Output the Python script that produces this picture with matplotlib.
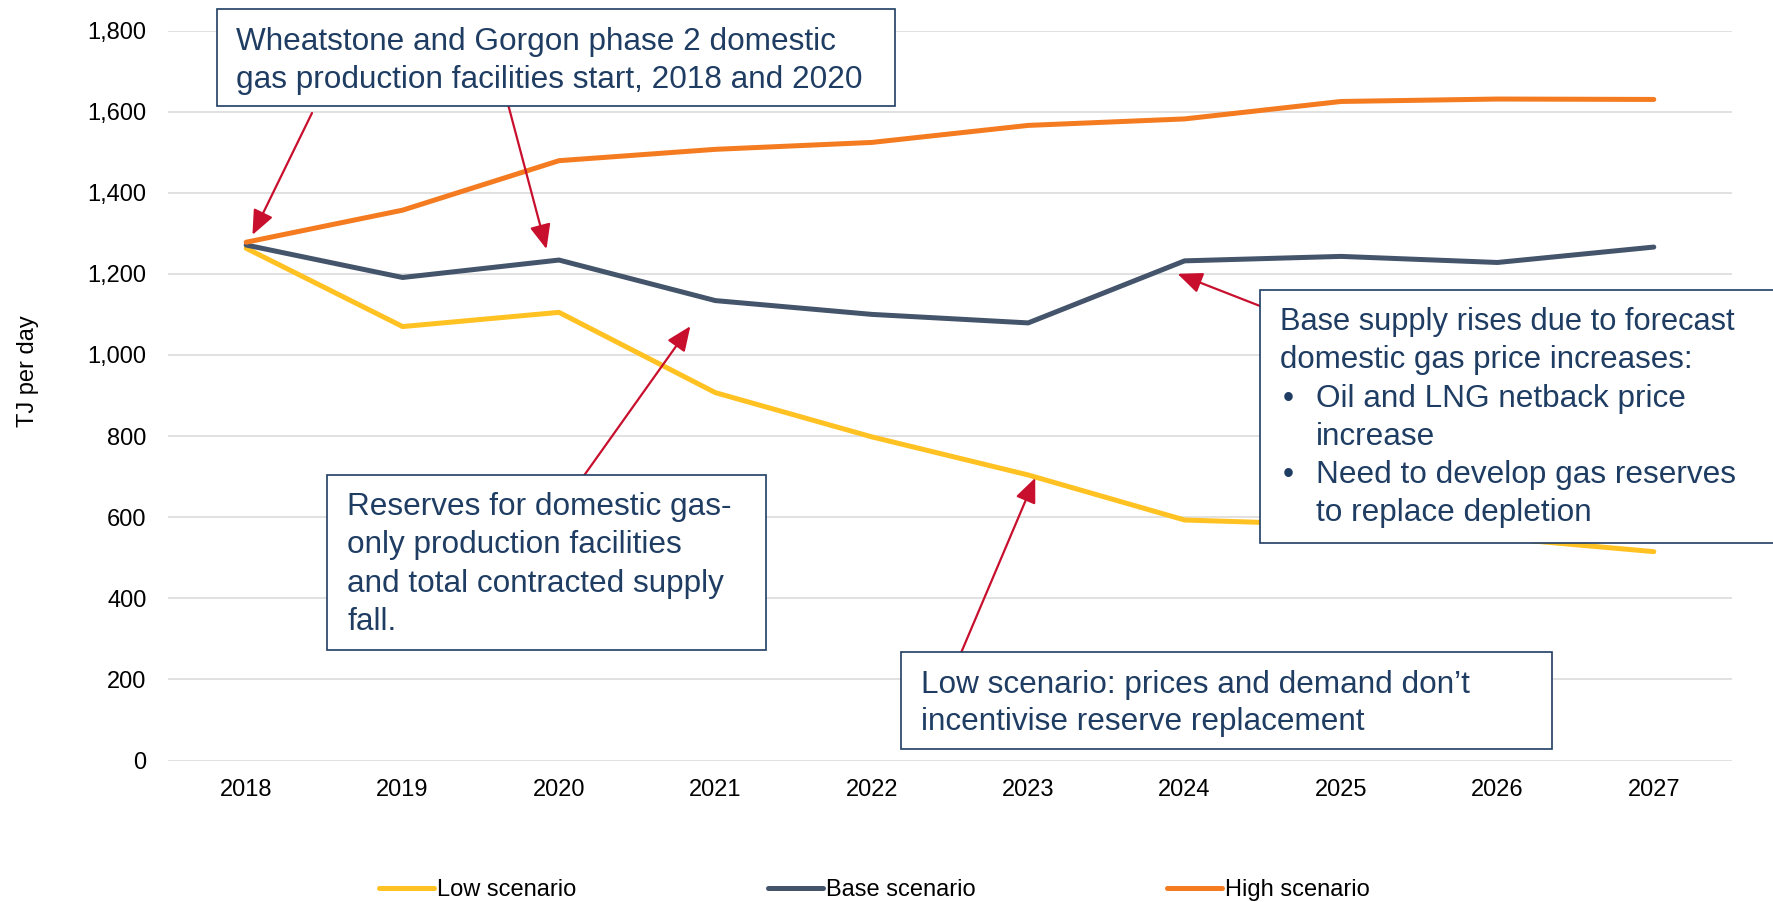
import matplotlib
matplotlib.use('Agg')
import matplotlib.pyplot as plt
from matplotlib.patches import Rectangle
from matplotlib.ticker import FuncFormatter

plt.rcParams['font.family'] = ['Liberation Sans', 'DejaVu Sans']

years = ['2018', '2019', '2020', '2021', '2022', '2023', '2024', '2025', '2026', '2027']
low = [1263, 1070, 1105, 907, 798, 704, 593, 581, 549, 515]
base = [1271, 1191, 1234, 1134, 1100, 1079, 1232, 1243, 1228, 1266]
high = [1278, 1357, 1479, 1507, 1524, 1566, 1582, 1625, 1631, 1630]

W, H = 1773, 902
fig = plt.figure(figsize=(W / 100, H / 100), dpi=100)
ax = fig.add_axes([168 / W, 1 - 760.5 / H, (1732 - 168) / W, (760.5 - 30.5) / H])

x = range(len(years))
ax.plot(x, low, color='#FFC222', lw=3.6, label='Low scenario', zorder=3, solid_capstyle='round')
ax.plot(x, base, color='#44546A', lw=3.6, label='Base scenario', zorder=3, solid_capstyle='round')
ax.plot(x, high, color='#F47B20', lw=3.6, label='High scenario', zorder=3, solid_capstyle='round')

ax.set_xlim(-0.5, len(years) - 0.5)
ax.set_ylim(0, 1800)
ax.set_yticks(range(0, 1801, 200))
ax.yaxis.set_major_formatter(FuncFormatter(lambda v, p: f'{int(v):,}'))
ax.set_xticks(list(x))
ax.set_xticklabels(years)
ax.grid(axis='y', color='#D9D9D9', lw=1.1, zorder=0)
ax.set_axisbelow(True)
for s in ax.spines.values():
    s.set_visible(False)
ax.tick_params(axis='y', length=0, pad=15.5, labelsize=17)
ax.tick_params(axis='x', length=0, pad=13.5, labelsize=17)

fig.text(28 / W, 1 - 371 / H, 'TJ per day', rotation=90, ha='center', va='center', fontsize=17)

ax.legend(loc='center', bbox_to_anchor=(874.5 / W, 12 / H), bbox_transform=fig.transFigure,
          ncol=3, frameon=False, fontsize=17, handlelength=2.33, handletextpad=0.13,
          columnspacing=8.1)

navy = '#1F3D63'
red = '#C8102E'


def box(x0, y0, x1, y1):
    r = Rectangle((x0 / W, 1 - y1 / H), (x1 - x0) / W, (y1 - y0) / H, transform=fig.transFigure,
                  facecolor='white', edgecolor=navy, lw=1.2, zorder=5, clip_on=False)
    ax.add_patch(r)


def line(xp, yb, s, size=22.7):
    ax.text(xp / W, 1 - yb / H, s, transform=fig.transFigure, fontsize=size, color=navy,
            va='baseline', ha='left', zorder=6, clip_on=False)


box(217, 9, 895, 106)
line(236.5, 50, 'Wheatstone and Gorgon phase 2 domestic')
line(236.5, 87.7, 'gas production facilities start, 2018 and 2020')

box(1260, 290, 1790, 543)
line(1280.4, 330, 'Base supply rises due to forecast', 22.2)
line(1280.4, 368.3, 'domestic gas price increases:', 22.5)
line(1283, 406.7, '•')
line(1316, 406.7, 'Oil and LNG netback price')
line(1316, 445, 'increase')
line(1283, 482.7, '•')
line(1316, 482.7, 'Need to develop gas reserves')
line(1316, 521, 'to replace depletion')

box(327, 475, 766, 650)
line(347.3, 515, 'Reserves for domestic gas-')
line(347.3, 553.3, 'only production facilities')
line(347.3, 591.7, 'and total contracted supply')
line(347.3, 630, 'fall.')

box(901, 652, 1552, 749)
line(921, 692.7, 'Low scenario: prices and demand don\u2019t')
line(921, 730, 'incentivise reserve replacement')

# arrows: tip in data coords, start in figure pixels
arrows = [
    ((0.04, 1296), (312, H - 113)),
    ((1.92, 1261), (508.5, H - 106)),
    ((2.84, 1071), (583, H - 477)),
    ((5.045, 697), (961.4, H - 652)),
    ((5.955, 1200), (1260, H - 306)),
]
for tip, start in arrows:
    ax.annotate('', xy=tip, xycoords='data', xytext=start, textcoords='figure pixels',
                arrowprops=dict(arrowstyle='-|>,head_length=0.75,head_width=0.32', color=red,
                                lw=1.6, shrinkA=0, shrinkB=0, mutation_scale=20),
                zorder=4, annotation_clip=False)

fig.savefig('out.png', dpi=100)
